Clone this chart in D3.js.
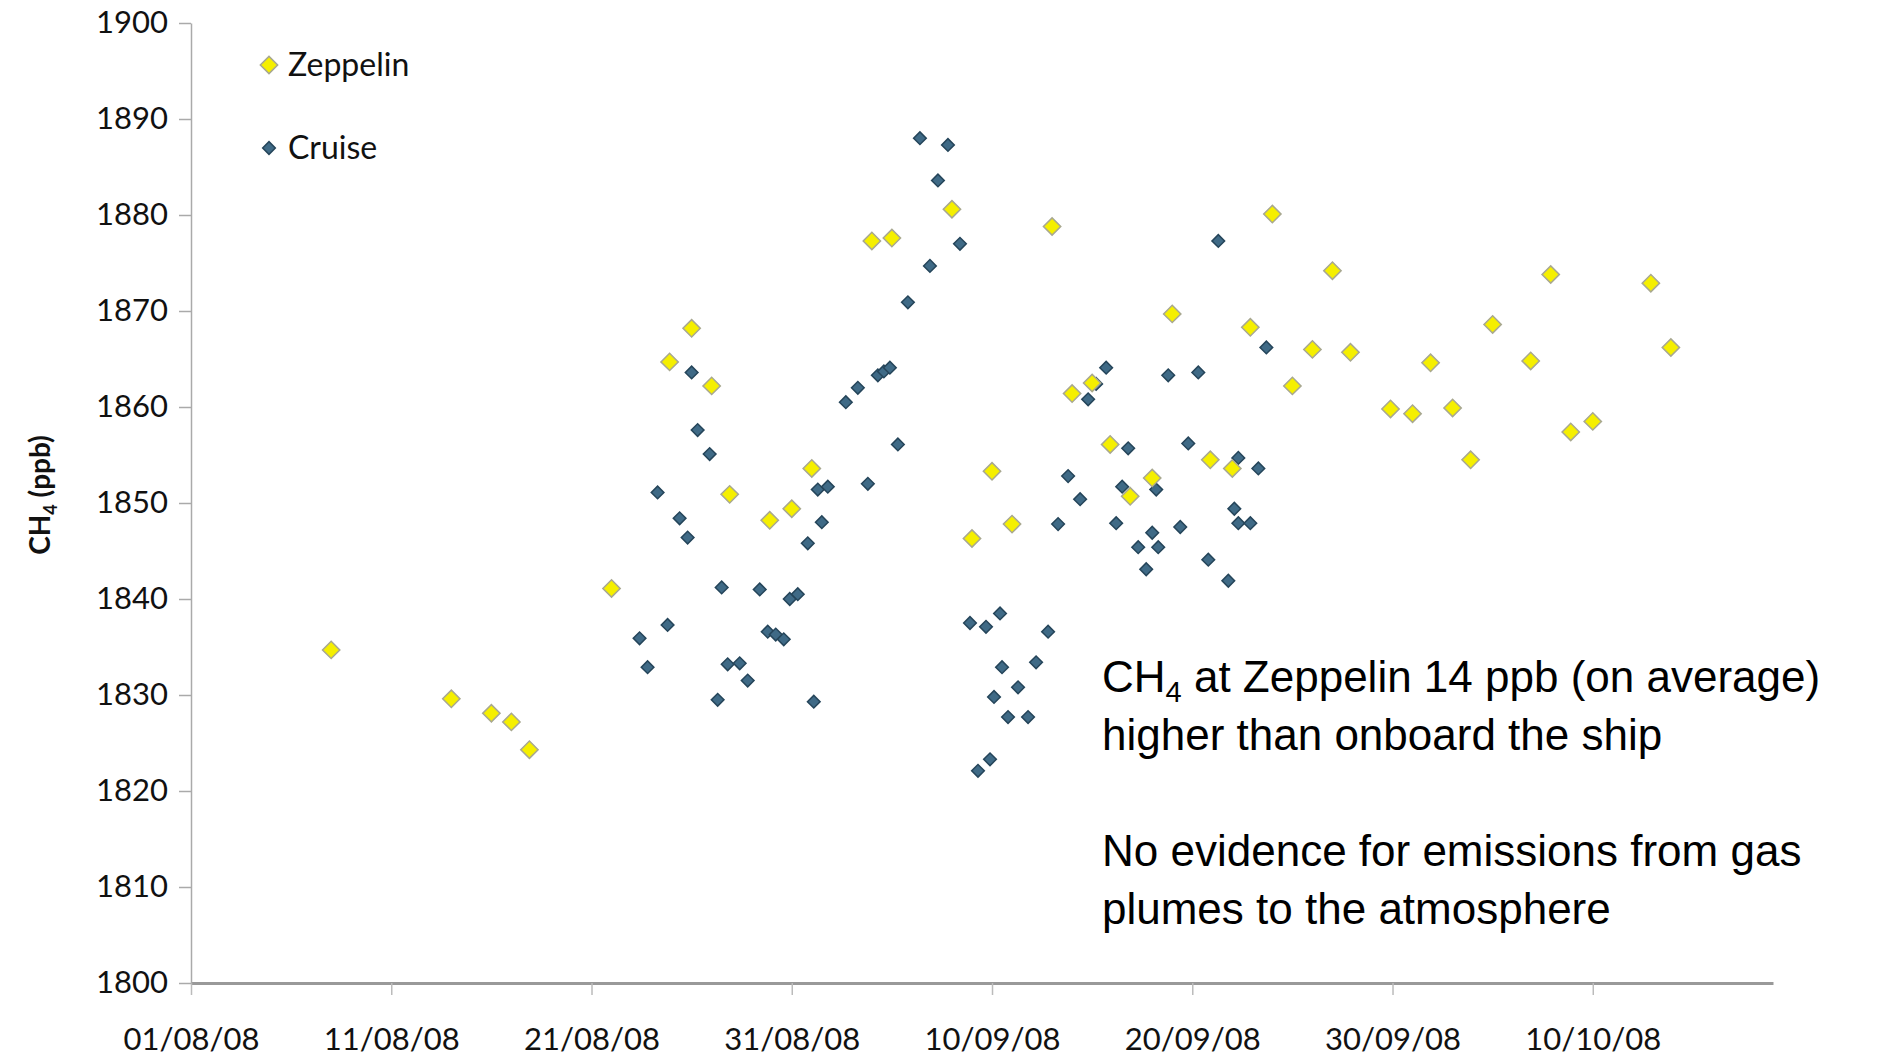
<!DOCTYPE html>
<html><head><meta charset="utf-8">
<script src="https://cdn.jsdelivr.net/npm/d3@7"></script>
<style>body{margin:0;background:#fff}svg{display:block}</style>
</head><body>
<script>
// day offsets from 01/08/08 and CH4 (ppb)
const zepDays = [7.0,13.0,15.0,16.0,16.9,21.0,23.9,25.0,26.0,26.9,28.9,30.0,31.0,34.0,35.0,38.0,39.0,40.0,41.0,43.0,44.0,45.0,45.9,46.9,48.0,49.0,50.9,52.0,52.9,54.0,55.0,56.0,57.0,57.9,59.9,61.0,61.9,63.0,63.9,65.0,66.9,67.9,68.9,70.0,72.9,73.9];
const zepVals = [1834.7,1829.6,1828.1,1827.2,1824.3,1841.1,1864.7,1868.2,1862.2,1850.9,1848.2,1849.4,1853.6,1877.3,1877.6,1880.6,1846.3,1853.3,1847.8,1878.8,1861.4,1862.5,1856.1,1850.7,1852.6,1869.7,1854.5,1853.6,1868.3,1880.1,1862.2,1866.0,1874.2,1865.7,1859.8,1859.3,1864.6,1859.9,1854.5,1868.6,1864.8,1873.8,1857.4,1858.5,1872.9,1866.2];
const cruiseDays = [22.4,22.8,23.3,23.8,24.4,24.8,25.0,25.3,25.9,26.3,26.5,26.8,27.4,27.8,28.4,28.8,29.2,29.6,29.9,30.3,30.8,31.1,31.3,31.5,31.8,32.7,33.3,33.8,34.3,34.6,34.9,35.3,35.8,36.4,36.9,37.3,37.8,38.4,38.9,39.3,39.7,39.9,40.1,40.4,40.5,40.8,41.3,41.8,42.2,42.8,43.3,43.8,44.4,44.8,45.2,45.7,46.2,46.5,46.8,47.3,47.7,48.0,48.2,48.3,48.8,49.4,49.8,50.3,50.8,51.3,51.8,52.1,52.3,52.3,52.9,53.3,53.7];
const cruiseVals = [1835.9,1832.9,1851.1,1837.3,1848.4,1846.4,1863.6,1857.6,1855.1,1829.5,1841.2,1833.2,1833.3,1831.5,1841.0,1836.6,1836.3,1835.8,1840.0,1840.5,1845.8,1829.3,1851.4,1848.0,1851.7,1860.5,1862.0,1852.0,1863.3,1863.7,1864.1,1856.1,1870.9,1888.0,1874.7,1883.6,1887.3,1877.0,1837.5,1822.1,1837.1,1823.3,1829.8,1838.5,1832.9,1827.7,1830.8,1827.7,1833.4,1836.6,1847.8,1852.8,1850.4,1860.8,1862.4,1864.1,1847.9,1851.7,1855.7,1845.4,1843.1,1846.9,1851.4,1845.4,1863.3,1847.5,1856.2,1863.6,1844.1,1877.3,1841.9,1849.4,1854.7,1847.9,1847.9,1853.6,1866.2];
const xTicks = ['01/08/08','11/08/08','21/08/08','31/08/08','10/09/08','20/09/08','30/09/08','10/10/08'];
const yTicks = [1800,1810,1820,1830,1840,1850,1860,1870,1880,1890,1900];

const W = 1890, H = 1056;
const m = {l:191, r:1773, t:23, b:983};
const parse = d3.timeParse('%d/%m/%y');
const t0 = parse('01/08/08');
const dayMs = 864e5;
const toDate = d => new Date(t0.getTime() + d*dayMs);

const svg = d3.select('body').append('svg').attr('width', W).attr('height', H);
const x = d3.scaleTime().domain([t0, toDate(79)]).range([m.l, m.r]);
const y = d3.scaleLinear().domain([1800,1900]).range([m.b, m.t]);
const font = 'Lato, "Open Sans", sans-serif';

const gx = svg.append('g').attr('transform', `translate(0,${m.b})`)
  .call(d3.axisBottom(x).tickValues(xTicks.map(parse)).tickFormat(d3.timeFormat('%d/%m/%y')).tickSize(12).tickSizeOuter(0));
gx.selectAll('text').attr('dy', 52).attr('font-size', 31).attr('font-family', font).attr('fill', '#111');
gx.select('.domain').attr('stroke', '#999').attr('stroke-width', 3);
gx.selectAll('.tick line').attr('stroke', '#bbb').attr('stroke-width', 1.5);

const gy = svg.append('g').attr('transform', `translate(${m.l},0)`)
  .call(d3.axisLeft(y).tickValues(yTicks).tickFormat(d3.format('d')).tickSize(12).tickSizeOuter(0));
gy.selectAll('text').attr('dx', -8).attr('font-size', 31).attr('font-family', font).attr('fill', '#111');
gy.select('.domain').attr('stroke', '#aaa').attr('stroke-width', 1.5);
gy.selectAll('.tick line').attr('stroke', '#aaa').attr('stroke-width', 1.5);

const yl = svg.append('text').attr('transform', `translate(50,${(m.t+m.b)/2 - 8}) rotate(-90)`)
  .attr('text-anchor', 'middle').attr('font-family', font).attr('font-weight', 'bold').attr('font-size', 28).attr('fill', '#111');
yl.append('tspan').text('CH');
yl.append('tspan').attr('font-size', 18).attr('dy', 7).text('4');
yl.append('tspan').attr('dy', -7).text(' (ppb)');

function draw(days, vals, size, fill, stroke) {
  svg.append('g').selectAll('path').data(days).join('path')
    .attr('d', d3.symbol().type(d3.symbolSquare).size(size))
    .attr('transform', (d,i) => `translate(${x(toDate(d))},${y(vals[i])}) rotate(45)`)
    .attr('fill', fill).attr('stroke', stroke).attr('stroke-width', 1.5);
}
draw(cruiseDays, cruiseVals, 80, '#3f6a86', '#25455a');
draw(zepDays, zepVals, 150, '#f5ef00', '#a8a890');

// legend
const leg = [['Zeppelin', 150, '#f5ef00', '#a8a890', 65], ['Cruise', 80, '#3f6a86', '#25455a', 148]];
leg.forEach(([name, s, f, st, ly]) => {
  svg.append('path').attr('d', d3.symbol().type(d3.symbolSquare).size(s)())
    .attr('transform', `translate(269,${ly}) rotate(45)`).attr('fill', f).attr('stroke', st).attr('stroke-width', 1.5);
  svg.append('text').attr('x', 288).attr('y', ly).attr('dy', '0.35em').attr('font-family', font)
    .attr('font-size', 32).attr('fill', '#111').text(name);
});

// annotation
const af = '"Liberation Sans", Arial, sans-serif';
const fs = 44;
const l1 = svg.append('text').attr('x', 1102).attr('y', 692).attr('font-family', af).attr('font-size', fs).attr('fill', '#000');
l1.append('tspan').text('CH');
l1.append('tspan').attr('font-size', 29).attr('dy', 10).text('4');
l1.append('tspan').attr('dy', -10).text(' at Zeppelin 14 ppb (on average)');
[['higher than onboard the ship', 750], ['No evidence for emissions from gas', 866], ['plumes to the atmosphere', 924]].forEach(([t, ty]) =>
  svg.append('text').attr('x', 1102).attr('y', ty).attr('font-family', af).attr('font-size', fs).attr('fill', '#000').text(t));
</script>
</body></html>
